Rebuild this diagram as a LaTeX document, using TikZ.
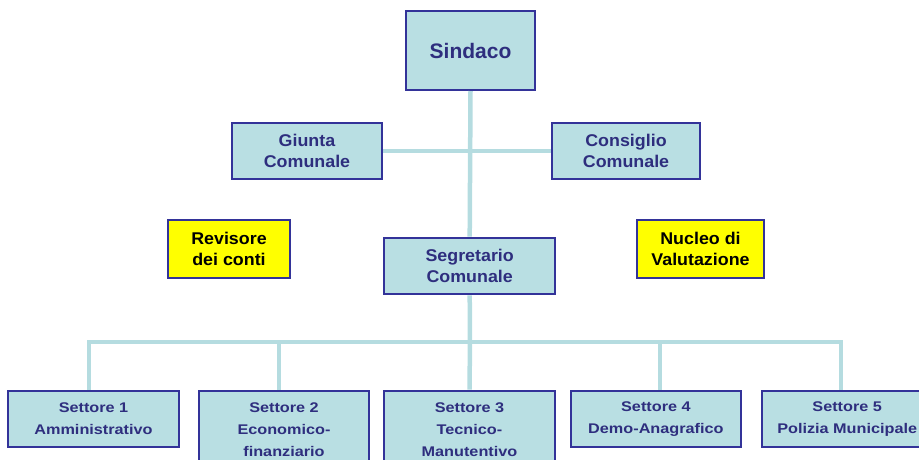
\documentclass[tikz,border=0pt]{standalone}
\usepackage{fontspec}
\setmainfont{Liberation Sans}
\newfontfamily\myStretchS[FakeStretch=1.16]{Liberation Sans}
\newfontfamily\myStretchU[FakeStretch=1.05]{Liberation Sans}
\newcommand\mySetFont{\myStretchS\bfseries\fontsize{14}{22}\selectfont}
\newcommand\myUpFont{\myStretchU\bfseries\fontsize{17}{20.7}\selectfont}
\newcommand\myTopFont{\bfseries\fontsize{21}{24}\selectfont}
\definecolor{boxc}{HTML}{B9DFE3}
\definecolor{connc}{HTML}{B5DCE0}
\definecolor{bordc}{HTML}{333399}
\definecolor{txtc}{HTML}{2E2E7E}
\definecolor{yel}{HTML}{FFFF00}
\tikzset{
  box/.style={draw=bordc, line width=2pt, fill=boxc, inner sep=0pt, align=center, font=\myUpFont, text=txtc},
  ybox/.style={box, fill=yel, text=black},
  sbox/.style={box, font=\mySetFont, minimum width=171pt, minimum height=56pt},
  sboxtall/.style={sbox, minimum height=78pt},
  conn/.style={draw=connc, line width=4.5pt, line join=miter},
}
\begin{document}
\begin{tikzpicture}[x=1pt,y=-1pt]
\path[use as bounding box] (0,0) rectangle (919,459);
\clip (0,0) rectangle (919,459);
% nodes
\node[box, font=\myTopFont, minimum width=129pt, minimum height=79pt] (sindaco) at (470.5,50.5) {Sindaco};
\node[box, minimum width=150.6pt, minimum height=56.6pt] (giunta) at (307,151) {Giunta\\Comunale};
\node[box, minimum width=148pt, minimum height=56.6pt] (consiglio) at (626,151) {Consiglio\\Comunale};
\node[ybox, minimum width=121.7pt, minimum height=57.4pt] (revisore) at (229,249) {Revisore\\dei conti};
\node[ybox, minimum width=127.6pt, minimum height=57.4pt] (nucleo) at (700.5,249) {Nucleo di\\Valutazione};
\node[box, minimum width=170.7pt, minimum height=56.6pt] (segretario) at (469.7,266) {Segretario\\Comunale};
\node[sbox] (s1) at (93.5,418.6) {Settore 1\\Amministrativo};
\node[sboxtall, minimum width=170pt] (s2) at (284,429.6) {Settore 2\\Economico-\\finanziario};
\node[sboxtall] (s3) at (469.5,429.6) {Settore 3\\Tecnico-\\Manutentivo};
\node[sbox, minimum width=170.3pt] (s4) at (655.9,418.6) {Settore 4\\Demo-Anagrafico};
\node[sbox] (s5) at (847.2,418.6) {Settore 5\\Polizia Municipale};
% connector anchors
\coordinate (busmid) at (470,342);
\coordinate (t1) at ([xshift=-4.5pt]s1.north);
\coordinate (t2) at ([xshift=-5pt]s2.north);
\coordinate (t4) at ([xshift=4pt]s4.north);
\coordinate (t5) at ([xshift=-6pt]s5.north);
% connectors
\draw[conn] (sindaco.south) -- (segretario.north);
\draw[conn] (giunta.east) -- (consiglio.west);
\draw[conn] (segretario.south) -- (busmid) -- (s3.north);
\draw[conn] (t1) |- (busmid) -| (t5);
\draw[conn] (t2) -- (t2 |- busmid);
\draw[conn] (t4) -- (t4 |- busmid);
\end{tikzpicture}
\end{document}
